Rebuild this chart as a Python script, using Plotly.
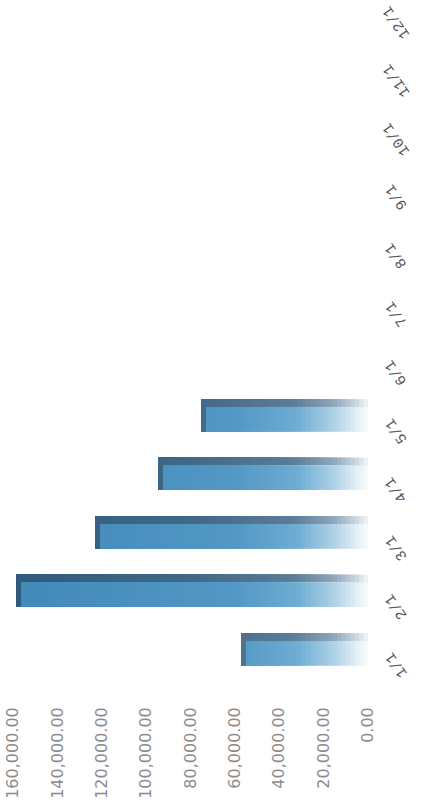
import numpy as np
import plotly.graph_objects as go

categories = ["1/1", "2/1", "3/1", "4/1", "5/1", "6/1", "7/1", "8/1", "9/1", "10/1", "11/1", "12/1"]
values = [57200, 158600, 123000, 94600, 75000, None, None, None, None, None, None, None]
tick_vals = [0, 20000, 40000, 60000, 80000, 100000, 120000, 140000, 160000]
tick_text = ["0.00", "20,000.00", "40,000.00", "60,000.00", "80,000.00",
             "100,000.00", "120,000.00", "140,000.00", "160,000.00"]

# gradient stops (value -> colour) for the front and top faces of the 3D bars
front_stops = [(0, (248, 251, 253)), (5000, (228, 239, 246)), (16000, (170, 208, 229)),
               (32000, (110, 172, 210)), (60000, (82, 152, 197)), (160000, (66, 136, 185))]
top_stops = [(0, (244, 247, 249)), (5000, (205, 216, 224)), (16000, (140, 165, 184)),
             (34000, (92, 124, 150)), (80000, (64, 104, 136)), (160000, (48, 90, 124))]


def colour(stops, v):
    for (v0, c0), (v1, c1) in zip(stops[:-1], stops[1:]):
        if v <= v1:
            t = (v - v0) / (v1 - v0)
            c = [round(a + (b - a) * t) for a, b in zip(c0, c1)]
            return f"rgb({c[0]},{c[1]},{c[2]})"
    c = stops[-1][1]
    return f"rgb({c[0]},{c[1]},{c[2]})"


vals = np.array([v if v is not None else 0 for v in values], dtype=float)
side_depth = 2300  # depth of the 3D side face, in value units
step = 2000
n_seg = int(np.ceil(vals.max() / step))

fig = go.Figure()
# back/top face spans the full bar thickness; the front face is drawn over its lower part
for stops, offset, width, shorten in [(top_stops, -0.274, 0.548, 0.0),
                                      (front_stops, -0.274, 0.411, side_depth)]:
    ends = np.where(vals > 0, vals - shorten, 0)
    for i in range(n_seg):
        base = i * step
        seg = np.clip(ends - base, 0, None)
        fig.add_trace(go.Bar(
            y=categories, x=seg, base=[base] * len(categories), orientation="h",
            offset=offset, width=width,
            marker=dict(color=colour(stops, base + step / 2), line=dict(width=0)),
            showlegend=False, hoverinfo="skip"))

# category labels, rotated like the rest of the (turned) chart
for cat in categories:
    fig.add_annotation(x=1, xref="paper", xanchor="center", xshift=22,
                       y=cat, yref="y", yanchor="middle", yshift=-16,
                       text=cat, showarrow=False, textangle=-125,
                       font=dict(family="Liberation Mono", size=15, color="#555555"))

fig.update_layout(
    barmode="overlay",
    width=425, height=811,
    margin=dict(l=5, r=50, t=0, b=108),
    paper_bgcolor="white", plot_bgcolor="white",
    xaxis=dict(range=[163600, -3155], tickvals=tick_vals, ticktext=tick_text,
               tickangle=-90, showgrid=False, zeroline=False, showline=False,
               ticks="", tickfont=dict(family="DejaVu Sans", size=16, color="#8c8c8c")),
    yaxis=dict(side="right", range=[-0.92, 11.10], showgrid=False, zeroline=False,
               showline=False, ticks="", showticklabels=False),
)

fig.write_html("out.html")
